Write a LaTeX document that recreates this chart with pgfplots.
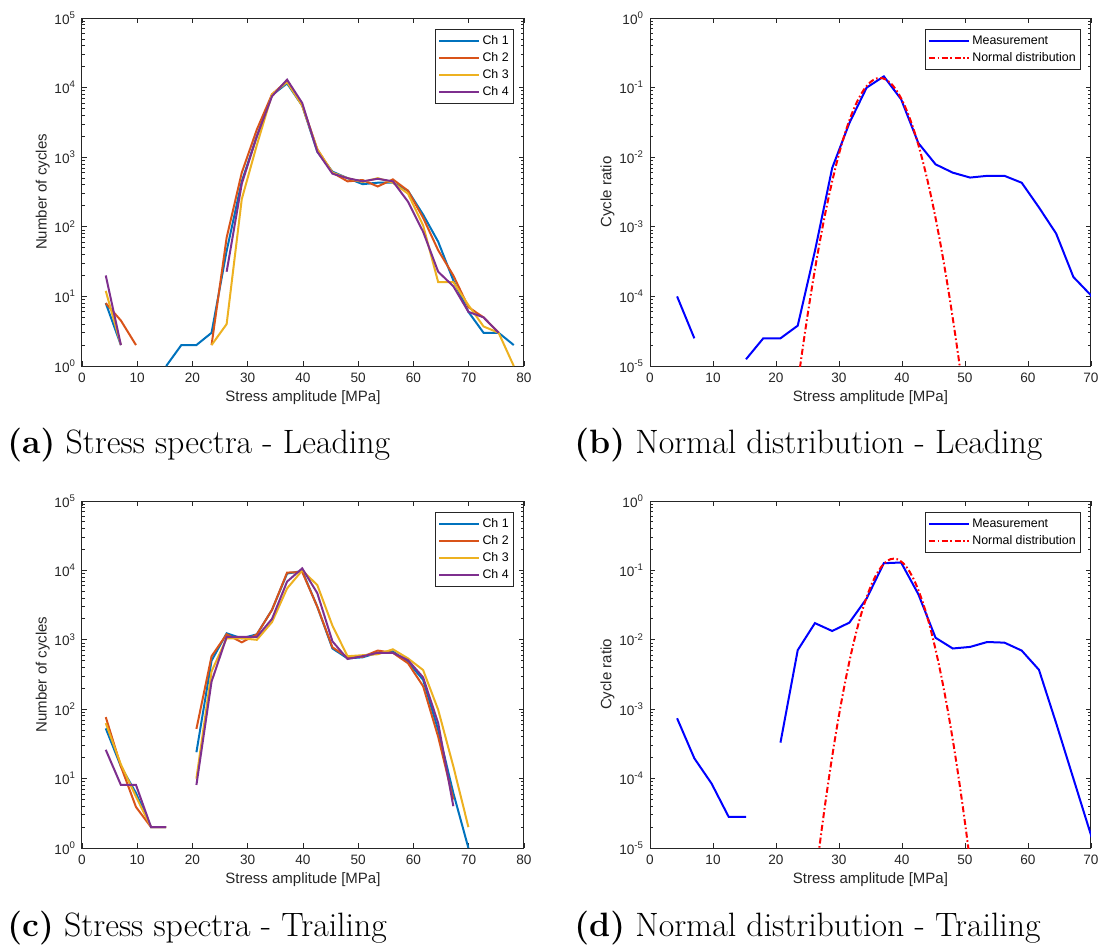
\documentclass[border=0pt]{standalone}
\usepackage{pgfplots}
\usepackage{pgfplotstable}
\pgfplotsset{compat=1.18}
\usepackage{fontspec}
\newfontfamily\hv{Liberation Sans}
\definecolor{axgray}{RGB}{38,38,38}
\definecolor{c1}{rgb}{0,0.447,0.741}
\definecolor{c2}{rgb}{0.85,0.325,0.098}
\definecolor{c3}{rgb}{0.929,0.694,0.125}
\definecolor{c4}{rgb}{0.494,0.184,0.556}

\pgfplotstableread{
x     c1     c2    c3     c4
4.30  8      8     12     20
7.04  2      4.5   2      2
9.77  nan    2     nan    nan
12.50 nan    nan   nan    nan
15.24 1      nan   nan    nan
17.98 2      nan   nan    nan
20.71 2      nan   nan    nan
23.45 3      2     2      nan
26.18 45     70    4      22.6
28.92 450    600   250    415
31.65 2000   2500  1500   2000
34.39 7800   8000  8000   7500
37.12 11500  12500 12000  13000
39.86 5500   5600  5500   6000
42.59 1200   1300  1300   1200
45.33 620    600   600    580
48.06 500    450   500    500
50.80 410    470   440    450
53.53 430    380   500    490
56.27 430    480   430    450
59.00 330    330   300    230
61.74 150    135   105    85
64.47 61     46    16     22.6
67.21 17     20    16     14
69.94 6      7     7.5    6
72.68 3      5     3.7    5
75.41 3      3     3      3
78.15 2      nan   1      nan
}\dataA

\pgfplotstableread{
x     c1     c2    c3     c4
4.30  53     77    63     26
7.04  15     15    16     8.1
9.77  6.2    3.9   5.5    8.1
12.50 2      2     2      2
15.24 2      2     2      2
17.98 nan    nan   nan    nan
20.71 24     52    10     8.1
23.45 500    580   350    250
26.18 1240   1200  1050   1100
28.92 1050   920   1050   1100
31.65 1200   1200  1000   1100
34.39 2700   2700  1800   2000
37.12 9000   9300  5500   6900
39.86 9800   9500  10000  10700
42.59 3000   3000  6150   4700
45.33 750    780   1600   950
48.06 540    560   580    530
50.80 560    570   600    580
53.53 650    700   620    650
56.27 680    650   730    650
59.00 480    460   540    510
61.74 265    215   367    288
64.47 50     40    98     63
67.21 6.2    5     15     4
69.94 1      nan   2      nan
}\dataC

\pgfplotstableread{
x     y
4.30  1e-4
7.04  2.5e-5
9.77  nan
12.50 nan
15.24 1.25e-5
17.98 2.5e-5
20.71 2.5e-5
23.45 3.8e-5
26.18 4.5e-4
28.92 7e-3
31.65 0.031
34.39 0.1
37.12 0.145
39.86 0.068
42.59 0.016
45.33 0.0079
48.06 0.006
50.80 0.0051
53.53 0.0054
56.27 0.0054
59.00 0.0043
61.74 0.0019
64.47 0.0008
67.21 0.00019
69.94 0.000105
72.68 0.00004
}\measB

\pgfplotstableread{
x     y
23.0  2.71e-6
23.5  5.955e-6
24.0  1.271e-5
24.5  2.633e-5
25.0  5.293e-5
25.5  1.033e-4
26.0  1.957e-4
26.5  3.601e-4
27.0  6.431e-4
27.5  1.114e-3
28.0  1.875e-3
28.5  3.063e-3
29.0  4.857e-3
29.5  7.470e-3
30.0  1.116e-2
30.5  1.618e-2
31.0  2.278e-2
31.5  3.112e-2
32.0  4.127e-2
32.5  5.31e-2
33.0  6.64e-2
33.5  8.06e-2
34.0  9.49e-2
34.5  0.1084
35.0  0.1203
35.5  0.1297
36.0  0.1356
36.5  0.1376
37.0  0.1356
37.5  0.1297
38.0  0.1203
38.5  0.1084
39.0  9.49e-2
39.5  8.06e-2
40.0  6.64e-2
40.5  5.31e-2
41.0  4.127e-2
41.5  3.112e-2
42.0  2.278e-2
42.5  1.618e-2
43.0  1.116e-2
43.5  7.470e-3
44.0  4.857e-3
44.5  3.063e-3
45.0  1.875e-3
45.5  1.114e-3
46.0  6.431e-4
46.5  3.601e-4
47.0  1.957e-4
47.5  1.033e-4
48.0  5.293e-5
48.5  2.633e-5
49.0  1.271e-5
49.5  5.955e-6
50.0  2.71e-6
}\normB

\pgfplotstableread{
x     y
4.30  7.4e-4
7.04  1.96e-4
9.77  8.5e-5
12.50 2.8e-5
15.24 2.8e-5
17.98 nan
20.71 3.3e-4
23.45 7.1e-3
26.18 0.0174
28.92 0.0134
31.65 0.0177
34.39 0.0394
37.12 0.127
39.86 0.130
42.59 0.0455
45.33 0.0107
48.06 0.0075
50.80 0.0079
53.53 0.0093
56.27 0.0091
59.00 0.0070
61.74 0.0037
64.47 6.3e-4
67.21 1e-4
69.94 1.6e-5
72.68 2.5e-6
}\measD

\pgfplotstableread{
x     y
26.2  3.28e-6
26.7  7.593e-6
27.2  1.699e-5
27.7  3.675e-5
28.2  7.684e-5
28.7  1.552e-4
29.2  3.030e-4
29.7  5.712e-4
30.2  1.041e-3
30.7  1.833e-3
31.2  3.119e-3
31.7  5.129e-3
32.2  8.150e-3
32.7  1.252e-2
33.2  1.856e-2
33.7  2.660e-2
34.2  3.684e-2
34.7  4.932e-2
35.2  6.377e-2
35.7  7.970e-2
36.2  9.625e-2
36.7  0.1123
37.2  0.1266
37.7  0.1379
38.2  0.1453
38.7  0.1478
39.2  0.1453
39.7  0.1379
40.2  0.1266
40.7  0.1123
41.2  9.625e-2
41.7  7.970e-2
42.2  6.377e-2
42.7  4.932e-2
43.2  3.684e-2
43.7  2.660e-2
44.2  1.856e-2
44.7  1.252e-2
45.2  8.150e-3
45.7  5.129e-3
46.2  3.119e-3
46.7  1.833e-3
47.2  1.041e-3
47.7  5.712e-4
48.2  3.030e-4
48.7  1.552e-4
49.2  7.684e-5
49.7  3.675e-5
50.2  1.699e-5
50.7  7.593e-6
51.2  3.28e-6
}\normD

\pgfplotsset{
  log number format basis/.code 2 args={10\raisebox{0.42em}{\hv\fontsize{4.8}{5}\selectfont\pgfmathprintnumber{#2}}},
  legend image code/.code={\draw[#1, line width=1pt] (0pt,0pt) -- (20pt,0pt);},
  mat/.style={
    scale only axis,
    axis line style={axgray, line width=0.5pt},
    every tick/.style={axgray, line width=0.45pt},
    tick align=inside,
    major tick length=2.3pt,
    minor tick length=1.5pt,
    tick label style={font=\hv\fontsize{6.8}{8}\selectfont, text=axgray},
    label style={font=\hv\fontsize{7.5}{9}\selectfont, text=axgray},
    /pgf/number format/assume math mode=true,
    xmin=0,
    unbounded coords=jump,
    filter discard warning=false,
    legend cell align=left,
    legend style={draw=axgray, line width=0.5pt, fill=white,
      font=\hv\fontsize{6.2}{7}\selectfont,
      at={(1,1)}, anchor=north east, xshift=-5pt, yshift=-5.5pt,
      inner xsep=1.2pt, inner ysep=1.9pt, row sep=0.4pt,
      nodes={inner xsep=1.2pt, inner ysep=1.1pt, text height=4.6pt, text depth=1.2pt}},
    xlabel={Stress amplitude [MPa]},
    xlabel style={yshift=3pt},
    ylabel style={yshift=-4.5pt},
  },
}

\begin{document}
\begin{tikzpicture}
% (a)
\begin{axis}[ymode=log, mat, at={(41pt,-9pt)}, anchor=north west, width=221pt, height=174pt,
  xmax=80, xtick={0,10,...,80}, ymin=1, ymax=1e5, ylabel={Number of cycles}]
  \addplot[c1, line width=1pt] table[x=x, y=c1] {\dataA};
  \addplot[c2, line width=1pt] table[x=x, y=c2] {\dataA};
  \addplot[c3, line width=1pt] table[x=x, y=c3] {\dataA};
  \addplot[c4, line width=1pt] table[x=x, y=c4] {\dataA};
  \legend{Ch 1, Ch 2, Ch 3, Ch 4}
\end{axis}
% (b)
\begin{axis}[ymode=log, mat, at={(325pt,-9pt)}, anchor=north west, width=220.5pt, height=174pt,
  xmax=70, xtick={0,10,...,70}, ymin=1e-5, ymax=1, ylabel={Cycle ratio}]
  \addplot[blue, line width=1pt] table[x=x, y=y] {\measB};
  \addplot[red, line width=1pt, dash pattern=on 3pt off 1.3pt on 0.8pt off 1.3pt] table[x=x, y=y] {\normB};
  \legend{Measurement, Normal distribution}
\end{axis}
% (c)
\begin{axis}[ymode=log, mat, at={(41pt,-250.5pt)}, anchor=north west, width=221pt, height=173.5pt,
  xmax=80, xtick={0,10,...,80}, ymin=1, ymax=1e5, ylabel={Number of cycles}]
  \addplot[c1, line width=1pt] table[x=x, y=c1] {\dataC};
  \addplot[c2, line width=1pt] table[x=x, y=c2] {\dataC};
  \addplot[c3, line width=1pt] table[x=x, y=c3] {\dataC};
  \addplot[c4, line width=1pt] table[x=x, y=c4] {\dataC};
  \legend{Ch 1, Ch 2, Ch 3, Ch 4}
\end{axis}
% (d)
\begin{axis}[ymode=log, mat, at={(325pt,-250.5pt)}, anchor=north west, width=220.5pt, height=173.5pt,
  xmax=70, xtick={0,10,...,70}, ymin=1e-5, ymax=1, ylabel={Cycle ratio}]
  \addplot[blue, line width=1pt] table[x=x, y=y] {\measD};
  \addplot[red, line width=1pt, dash pattern=on 3pt off 1.3pt on 0.8pt off 1.3pt] table[x=x, y=y] {\normD};
  \legend{Measurement, Normal distribution}
\end{axis}
% captions
\node[anchor=base west, inner sep=0pt] at (3.5pt,-226.7pt) {\fontsize{16.9}{19}\selectfont\textbf{(a)} Stress spectra - Leading};
\node[anchor=base west, inner sep=0pt] at (287pt,-226.7pt) {\fontsize{16.9}{19}\selectfont\textbf{(b)} Normal distribution - Leading};
\node[anchor=base west, inner sep=0pt] at (3.5pt,-468.3pt) {\fontsize{16.9}{19}\selectfont\textbf{(c)} Stress spectra - Trailing};
\node[anchor=base west, inner sep=0pt] at (287pt,-468.3pt) {\fontsize{16.9}{19}\selectfont\textbf{(d)} Normal distribution - Trailing};
\pgfresetboundingbox
\path[use as bounding box] (0pt,0pt) rectangle (549.5pt,-472pt);
\end{tikzpicture}
\end{document}
